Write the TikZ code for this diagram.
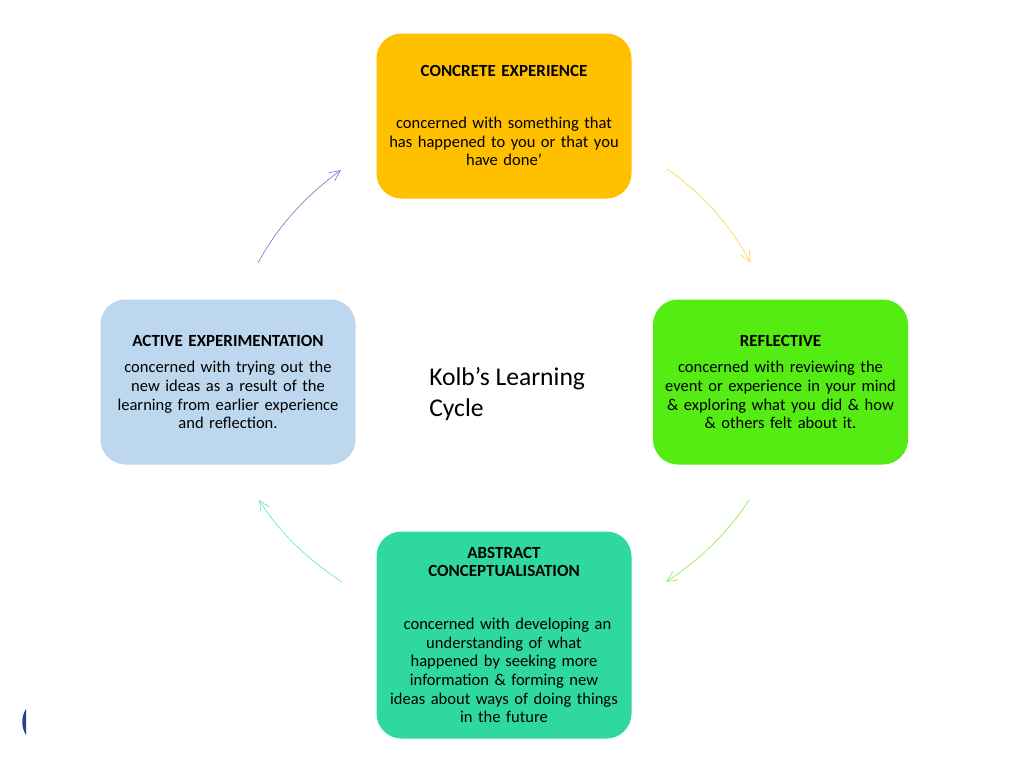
\documentclass[tikz,border=0pt]{standalone}
\usepackage{fontspec}
\setmainfont{Carlito}[WordSpace=0.7]
\newfontfamily\titlefont{Carlito}
\usetikzlibrary{arrows.meta}
\definecolor{cyellow}{HTML}{FFC000}
\definecolor{cgreen}{HTML}{55EC14}
\definecolor{cteal}{HTML}{2FD8A0}
\definecolor{cblue}{HTML}{BDD7EE}
\definecolor{aamber}{HTML}{FFD458}
\definecolor{ablue}{HTML}{6F84CC}
\definecolor{ateal}{HTML}{70E6C4}
\definecolor{agreen}{HTML}{8CEE64}
\definecolor{logoblue}{HTML}{2A3F8F}
\tikzset{
  x=0.75pt,y=-0.75pt,
  stagebox/.style={rounded corners=25*0.75pt,minimum width=255*0.75pt,inner sep=0pt,draw=none},
  body/.style={font=\fontsize{12.4}{14}\selectfont,align=center,inner sep=0pt,text width=250*0.75pt},
  head/.style={body,font=\fontsize{12.75}{14.2}\selectfont\bfseries},
  cycle/.style={line width=0.5pt,-{Straight Barb[length=8pt,width=9pt,angle'=50,line width=0.5pt]}},
}
\begin{document}
\begin{tikzpicture}
\useasboundingbox (0,0) rectangle (1024,768);
\fill[white] (0,0) rectangle (1024,768);
% boxes
\node[stagebox,fill=cyellow,minimum height=165*0.75pt] (ce) at (504,116) {};
\node[stagebox,fill=cgreen,minimum height=165*0.75pt] (re) at (780.5,382) {};
\node[stagebox,fill=cblue,minimum height=165*0.75pt] (ae) at (228,382) {};
\node[stagebox,fill=cteal,minimum height=207*0.75pt] (ac) at (504,635) {};
% text
\node[head] (t1) at (504,71) {CONCRETE EXPERIENCE};
\node[body] (b1) at (504,141.5) {concerned with something that\\has happened to you or that you\\have done’};
\node[head] (t2) at (780.5,341) {REFLECTIVE};
\node[body] (b2) at (780.5,395) {concerned with reviewing the\\event or experience in your mind\\\& exploring what you did \& how\\\& others felt about it.};
\node[head] (t3) at (228,341) {ACTIVE EXPERIMENTATION};
\node[body] (b3) at (228,395) {concerned with trying out the\\new ideas as a result of the\\learning from earlier experience\\and reflection.};
\node[head] (t4) at (504,562) {ABSTRACT\\CONCEPTUALISATION};
\node[body] (b4) at (504,670.5) {\hspace*{5.25pt}concerned with developing an\\understanding of what\\happened by seeking more\\information \& forming new\\ideas about ways of doing things\\in the future};
\node[anchor=north west,inner sep=0pt,align=left,font=\titlefont\fontsize{19.2}{23.25}\selectfont] (k) at (429,367.5) {Kolb’s Learning\\Cycle};
% connector ends
\coordinate (p1) at (667,169);
\coordinate (p2) at (750.5,262.5);
\coordinate (p3) at (749,500);
\coordinate (p4) at (666,582);
\coordinate (p5) at (342,582);
\coordinate (p6) at (259,500);
\coordinate (p7) at (258,263);
\coordinate (p8) at (341,170);
\draw[cycle,aamber] (p1) .. controls (703,194) and (730,225) .. (p2);
\draw[cycle,agreen] (p3) .. controls (727,534) and (699,560) .. (p4);
\draw[cycle,ateal] (p5) .. controls (306,558) and (280,533) .. (p6);
\draw[cycle,ablue] (p7) .. controls (279,224) and (307,195) .. (p8);
% cropped logo fragment
\fill[logoblue] (26,709) .. controls (21,717) and (21,727) .. (26,735) -- cycle;
\end{tikzpicture}
\end{document}
